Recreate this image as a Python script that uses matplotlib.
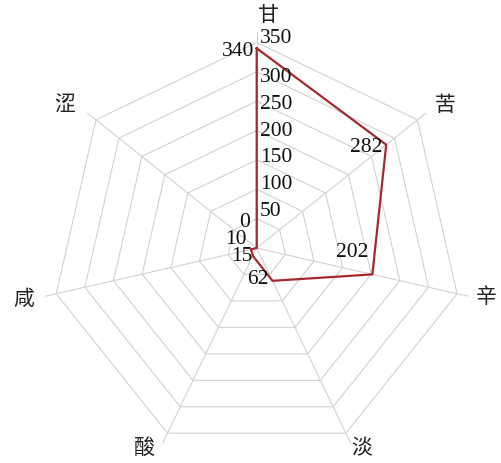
import numpy as np
import matplotlib.pyplot as plt

plt.rcParams['font.family'] = ['Liberation Serif', 'Noto Sans CJK SC', 'DejaVu Sans']

# data
categories = ['甘', '苦', '辛', '淡', '酸', '咸', '涩']
values = [340, 282, 202, 62, 15, 10, 0]
ticks = [0, 50, 100, 150, 200, 250, 300, 350]
tick_labels = ['50', '100', '150', '200', '250', '300', '350']

# label nudges in pixels (dx, dy with y up)
value_offsets = [(-19, -3), (-20, -3), (-20, 22), (-15, 1), (-11, -1), (-15, 10), (-12, 26)]
cat_offsets = [(12, 27), (28, 15), (29, -3), (16, -15), (-23, -15), (-33, -5), (-31, 15)]
tick_offsets = [7, 5, 2, -1, -3, -6, 4]

red = '#A52A30'
grid_col = '#D2D2D2'

fig = plt.figure(figsize=(5.01, 4.63), dpi=100)
cx, cy, R = 256.7 / 501, 1 - 248 / 463, 205.6
ax = fig.add_axes([cx - R / 501, cy - R / 463, 2 * R / 501, 2 * R / 463], projection='polar')
ax.set_theta_zero_location('N')
ax.set_theta_direction(-1)
ax.set_ylim(0, 350)
ax.grid(False)
ax.spines['polar'].set_visible(False)
ax.set_xticks([])
ax.set_yticks([])
ax.patch.set_alpha(0)

n = len(categories)
angles = np.arange(n) * 2 * np.pi / n
closed = np.append(angles, angles[0])

# heptagon rings
for t in ticks[1:]:
    ax.plot(closed, [t] * (n + 1), color=grid_col, lw=0.8, zorder=1)

# spokes
for a in angles:
    ax.plot([a, a], [0, 368], color=grid_col, lw=0.8, zorder=1, clip_on=False)

# series
ax.plot(closed, values + values[:1], color=red, lw=1.6, zorder=3, clip_on=False)

# value labels
for a, v, (dx, dy) in zip(angles, values, value_offsets):
    ax.annotate(str(v), (a, v), xytext=(dx, dy), textcoords='offset pixels',
                ha='center', va='center', fontsize=15.5, color='#111111')

# axis tick labels
for t, lab, dy in zip(ticks[1:], tick_labels, tick_offsets):
    ax.annotate(lab, (0, t), xytext=(3, dy), textcoords='offset pixels',
                ha='left', va='center', fontsize=15.5, color='#111111')

# category labels
for a, c, (dx, dy) in zip(angles, categories, cat_offsets):
    ax.annotate(c, (a, 350), xytext=(dx, dy), textcoords='offset pixels',
                ha='center', va='center', fontsize=15, color='#222222',
                family=['Noto Sans CJK SC', 'DejaVu Sans'], annotation_clip=False)

fig.savefig('out.png', dpi=100)
